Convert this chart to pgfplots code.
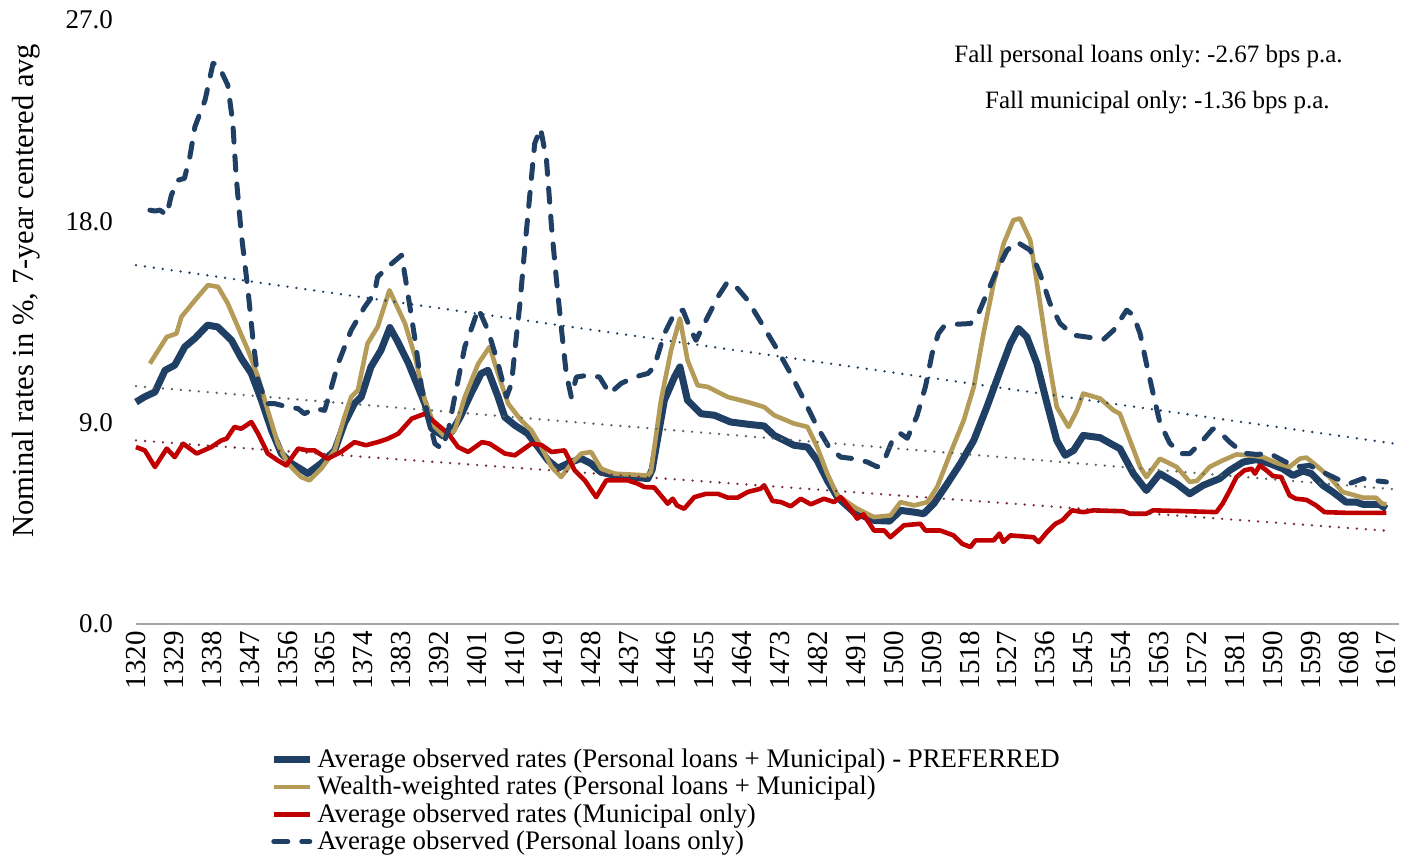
\documentclass[border=0pt]{standalone}
\usepackage{fontspec}
\setmainfont{Liberation Serif}
\usepackage{pgfplots}
\pgfplotsset{compat=1.18}

\definecolor{navy}{HTML}{1F3F64}
\definecolor{gold}{HTML}{B49B57}
\definecolor{mred}{HTML}{C00000}
\definecolor{trendgray}{HTML}{5A665A}
\definecolor{maroon}{HTML}{7B2C3A}
\definecolor{axgray}{HTML}{A6A6A6}

\begin{document}
\frenchspacing
\begin{tikzpicture}
\begin{axis}[
  scale only axis,
  width=631.5pt, height=302pt,
  xmin=1320, xmax=1620,
  ymin=0, ymax=27,
  xtick={1320,1329,...,1617},
  ytick={0,9,18,27},
  /pgf/number format/assume math mode=true,
  xticklabel style={rotate=90, anchor=east, font=\fontsize{14.5}{17}\selectfont,
    /pgf/number format/1000 sep={}},
  yticklabel style={font=\fontsize{13.5}{16}\selectfont, xshift=-8pt,
    /pgf/number format/.cd, fixed, fixed zerofill, precision=1},
  xtick style={draw=none}, ytick style={draw=none},
  axis x line*=bottom, axis y line*=left,
  x axis line style={color=axgray, line width=1pt, -},
  y axis line style={draw=none},
  ylabel={Nominal rates in \%, 7-year centered avg},
  ylabel style={at={(axis description cs:-0.087,0.552)}, anchor=center,
    font=\fontsize{15.3}{18}\selectfont},
  legend style={draw=none, fill=none, at={(0.106,-0.2)}, anchor=north west,
    font=\fontsize{13.4}{14.5}\selectfont, row sep=-1.2pt, inner sep=0pt},
  legend cell align=left,
  legend image code/.code={\draw[#1] (0pt,0pt) -- (18pt,0pt);},
  clip=false,
]
\addplot[navy, line width=3.5pt, line join=round] coordinates {
(1320,9.92)(1322,10.15)(1324.5,10.37)(1326.9,11.34)(1329.2,11.57)(1331.6,12.39)
(1334,12.77)(1337,13.36)(1339.4,13.28)(1342.7,12.68)(1345,11.88)(1347.4,11.2)
(1349.8,10.0)(1352.2,8.66)(1354.5,7.63)(1356.9,7.18)(1360.8,6.73)(1364,7.18)
(1367.2,7.76)(1369.5,8.97)(1371.9,9.86)(1373.5,10.15)(1375.8,11.49)(1378.2,12.24)
(1380.3,13.25)(1382,12.68)(1384.7,11.66)(1388.6,9.86)(1390.2,8.75)(1393,8.4)
(1395,8.6)(1397,9.25)(1399.6,10.31)(1402,11.2)(1403.6,11.34)(1406,10.15)
(1407.6,9.25)(1410,8.88)(1413,8.52)(1415.5,7.91)(1417.9,7.31)(1420.2,6.96)
(1422.6,7.18)(1425.7,7.4)(1428,7.18)(1430.4,6.79)(1433.7,6.64)(1441.6,6.5)
(1442.6,6.9)(1445.5,10.0)(1447.9,11.04)(1449.2,11.49)(1451,10.0)(1454.2,9.4)
(1457.4,9.33)(1461.2,9.03)(1465.3,8.93)(1469.2,8.85)(1471.6,8.43)(1476.3,7.99)
(1479.5,7.91)(1481.8,7.31)(1484.2,6.42)(1486.6,5.67)(1490.5,5.0)(1495.3,4.63)
(1499,4.6)(1501.6,5.08)(1504.8,5.0)(1507.1,4.93)(1509.5,5.38)(1512.7,6.27)
(1515.8,7.17)(1519,8.21)(1522.1,9.7)(1525.3,11.34)(1527.7,12.54)(1529.6,13.21)
(1531.6,12.83)(1534,11.64)(1536.4,9.85)(1538.7,8.21)(1540.7,7.54)(1542.7,7.76)
(1545,8.43)(1549,8.33)(1552.2,7.99)(1553.7,7.84)(1556.9,6.72)(1560,5.97)
(1563.2,6.72)(1567.2,6.27)(1570.3,5.82)(1573.5,6.2)(1577.4,6.5)(1579.8,6.87)
(1583,7.24)(1586.1,7.35)(1589.3,7.17)(1592.4,6.94)(1594.8,6.64)(1597.2,6.84)
(1599.2,6.72)(1601.9,6.2)(1604.3,5.9)(1607.4,5.45)(1609.8,5.45)(1611.4,5.35)
(1615.3,5.35)(1617,5.15)};
\addlegendentry{Average observed rates (Personal loans + Municipal) - PREFERRED}

\addplot[gold, line width=2.3pt, line join=round] coordinates {
(1323.3,11.64)(1327.3,12.83)(1329.6,12.98)(1330.8,13.73)(1334,14.47)(1337.1,15.15)
(1339.5,15.07)(1341.8,14.33)(1344.2,13.28)(1346.6,12.24)(1349,11.04)(1351.3,9.55)
(1353.7,8.06)(1356.1,7.17)(1359.2,6.57)(1361.2,6.42)(1364,6.94)(1367.2,7.76)
(1369.5,9.25)(1371.1,10.15)(1372.7,10.45)(1375,12.54)(1377.4,13.28)(1380.2,14.92)
(1383.9,13.43)(1386.3,11.94)(1388.6,10.0)(1391,8.81)(1393.4,8.36)(1395.7,8.66)
(1398.1,10.15)(1401.3,11.64)(1404,12.39)(1406,11.19)(1408.4,9.85)(1411.5,9.1)
(1413.9,8.66)(1416.3,7.91)(1418.7,7.02)(1421,6.57)(1423.4,7.17)(1425.8,7.62)
(1428.1,7.69)(1430.5,6.94)(1433.7,6.72)(1441.6,6.64)(1442.3,6.8)(1444.7,10.0)
(1447.1,12.24)(1449.2,13.66)(1451,11.79)(1453.4,10.67)(1455.8,10.6)(1460.5,10.15)
(1465.3,9.92)(1469.2,9.7)(1471.6,9.33)(1476.3,8.96)(1479.5,8.81)(1481.8,7.91)
(1484.2,6.72)(1486.6,5.75)(1491.3,5.15)(1495.3,4.78)(1499.2,4.85)(1501.6,5.45)
(1504.8,5.3)(1508,5.45)(1510.3,6.12)(1513.4,7.62)(1516.6,9.1)(1519,10.6)
(1521.3,12.98)(1523.7,15.22)(1526.1,17.01)(1528.4,18.05)(1530,18.13)(1532.4,17.16)
(1534.4,14.77)(1536.4,12.24)(1538.7,9.7)(1541.5,8.81)(1543.5,9.55)(1545,10.3)
(1549,10.08)(1552.2,9.55)(1553.7,9.4)(1556.1,8.21)(1558.5,7.02)(1560,6.57)
(1563.2,7.39)(1567.2,7.02)(1570.3,6.35)(1572,6.4)(1575,7.02)(1578.1,7.31)
(1581.4,7.58)(1584.5,7.54)(1587.7,7.46)(1590.9,7.2)(1594,7.02)(1596.4,7.39)
(1598,7.44)(1600.3,7.09)(1603.5,6.57)(1606.6,5.9)(1608.2,5.82)(1611.4,5.65)
(1614.5,5.65)(1616,5.38)(1617,5.35)};
\addlegendentry{Wealth-weighted rates (Personal loans + Municipal)}

\addplot[mred, line width=2.3pt, line join=round] coordinates {
(1320,7.91)(1322.1,7.76)(1324.5,7.02)(1327.3,7.84)(1329.2,7.46)(1331.2,8.06)
(1334.4,7.62)(1337.9,7.91)(1340.3,8.21)(1341.5,8.28)(1343.4,8.81)(1345,8.73)
(1347.4,9.03)(1349,8.51)(1351.3,7.62)(1353.7,7.31)(1355.7,7.09)(1358.5,7.84)
(1360.8,7.76)(1362.4,7.76)(1365.5,7.39)(1368.7,7.69)(1371.9,8.13)(1374.6,7.99)
(1377.4,8.13)(1379.8,8.28)(1382.3,8.51)(1385.5,9.18)(1388.6,9.4)(1391.8,8.88)
(1394.2,8.51)(1396.5,7.91)(1398.9,7.69)(1402.2,8.13)(1404,8.06)(1407.6,7.62)
(1410,7.54)(1413.9,8.06)(1416.3,8.0)(1418.7,7.69)(1421.8,7.76)(1424.2,6.87)
(1426.6,6.42)(1429.3,5.67)(1431.7,6.42)(1436.8,6.42)(1439.2,6.27)(1440.8,6.12)
(1443.1,6.1)(1446.3,5.38)(1447.5,5.6)(1448.5,5.3)(1450.2,5.15)(1452.6,5.67)
(1455.4,5.82)(1458.2,5.82)(1460.5,5.65)(1462.9,5.65)(1465.3,5.9)(1468.4,6.05)
(1469.2,6.2)(1471.2,5.5)(1473.2,5.45)(1475.5,5.26)(1477.9,5.6)(1480.3,5.35)
(1483.4,5.6)(1485.8,5.45)(1487.4,5.67)(1489.7,5.15)(1491.3,4.71)(1492.8,4.9)
(1495.3,4.18)(1497.7,4.18)(1499.2,3.88)(1502.4,4.41)(1506.3,4.48)(1507.5,4.18)
(1511,4.18)(1514.2,3.96)(1516.2,3.59)(1518.2,3.44)(1519.4,3.74)(1523.7,3.74)
(1525.1,4.04)(1526,3.67)(1527.7,3.96)(1533.2,3.88)(1534.4,3.66)(1536.4,4.11)
(1538.4,4.48)(1540,4.63)(1542.3,5.08)(1545,5.0)(1547.4,5.08)(1554.5,5.04)
(1556.1,4.93)(1560,4.93)(1561.6,5.08)(1567.9,5.05)(1576.6,5.0)(1578.1,5.38)
(1579.8,5.97)(1581.4,6.57)(1583.3,6.87)(1585,6.94)(1585.8,6.72)(1586.9,7.09)
(1588.5,6.87)(1590.1,6.61)(1592,6.57)(1594,5.75)(1595.5,5.6)(1598,5.55)
(1600.3,5.3)(1602.3,5.0)(1607.4,4.97)(1617,4.97)};
\addlegendentry{Average observed rates (Municipal only)}

\addplot[navy, line width=2.5pt, line cap=round, line join=round,
  dash pattern=on 7pt off 7pt] coordinates {
(1323.3,18.5)(1324.5,18.46)(1325.7,18.5)(1327.3,18.28)(1328.4,19.17)(1330,19.84)
(1331.5,19.92)(1332.8,20.89)(1334,22.23)(1336.4,23.42)(1338.3,25.06)(1339.5,25.0)
(1341.8,24.09)(1343,22.38)(1343.8,19.99)(1345,17.46)(1346.6,14.92)(1347.8,12.68)
(1349,10.9)(1351,9.85)(1353,9.85)(1356.1,9.7)(1358.5,9.63)(1360,9.4)
(1362.4,9.63)(1364.8,9.55)(1366,10.3)(1368,11.64)(1371.1,13.13)(1374.3,14.17)
(1376.6,14.77)(1377.4,15.52)(1379.8,15.96)(1383.1,16.49)(1384.7,14.62)(1386.3,12.68)
(1387.8,10.6)(1389.4,9.25)(1391,8.06)(1392.6,7.84)(1394.2,8.66)(1395.7,10.15)
(1398.1,12.39)(1400.1,13.43)(1401.3,14.1)(1403.6,13.13)(1406,11.64)(1408,10.15)
(1409.2,10.75)(1410,12.24)(1411.2,14.33)(1412.3,16.71)(1413.5,19.1)(1414.7,21.48)
(1416.1,22.16)(1417.5,20.74)(1418.7,17.75)(1419.8,15.52)(1421,13.28)(1422.2,11.19)
(1423.4,10.15)(1424.6,11.04)(1427.3,11.12)(1430.1,11.04)(1432.5,10.3)(1435.2,10.75)
(1438.4,11.04)(1441.6,11.2)(1443.1,11.5)(1445.5,12.98)(1447.9,13.88)(1449.9,14.03)
(1451.5,13.28)(1453,12.68)(1455.8,13.73)(1458.2,14.62)(1460.5,15.29)(1462.9,15.0)
(1465.3,14.47)(1468.4,13.5)(1472.4,12.24)(1475.5,11.19)(1478.7,10.0)(1481.8,8.81)
(1484.6,7.91)(1487.4,7.46)(1490.5,7.39)(1493.7,7.24)(1496.1,7.02)(1497.7,7.31)
(1500,8.36)(1501.6,8.51)(1503.2,8.3)(1505.5,9.3)(1507.5,10.6)(1509.1,12.09)
(1510.6,12.98)(1511.8,13.28)(1515,13.4)(1518.2,13.43)(1520.1,13.88)(1522.1,14.77)
(1524.5,15.82)(1526.9,16.71)(1529.2,17.08)(1532.4,16.71)(1534.7,15.67)(1537.1,14.33)
(1539.5,13.43)(1542.7,12.91)(1545.8,12.83)(1549.8,12.72)(1552.2,13.13)(1555.3,14.03)
(1556.9,13.8)(1558.5,12.98)(1560,11.64)(1561.6,10.3)(1563.2,9.0)(1565.5,8.1)
(1567.9,7.62)(1570.3,7.62)(1572.7,8.06)(1575.8,8.73)(1577.4,8.58)(1579.8,8.13)
(1583,7.64)(1586.1,7.58)(1589.3,7.62)(1592.4,7.31)(1595.5,7.02)(1598.7,7.09)
(1601.9,6.79)(1605.1,6.5)(1608.2,6.27)(1611.4,6.5)(1613.7,6.42)(1617,6.35)};
\addlegendentry{Average observed (Personal loans only)}

% linear trends
\addplot[navy, line width=1.3pt, line cap=round, dash pattern=on 0pt off 4.5pt, forget plot]
  coordinates {(1320,16.04)(1619,8.06)};
\addplot[trendgray, line width=1.3pt, line cap=round, dash pattern=on 0pt off 4.5pt, forget plot]
  coordinates {(1320,10.63)(1619,6.02)};
\addplot[maroon, line width=1.3pt, line cap=round, dash pattern=on 0pt off 4.5pt, forget plot]
  coordinates {(1320,8.21)(1617,4.17)};

\node[font=\fontsize{12.5}{15}\selectfont] at (axis cs:1560.5,25.35)
  {Fall personal loans only: -2.67 bps p.a.};
\node[font=\fontsize{12.5}{15}\selectfont] at (axis cs:1562.6,23.33)
  {Fall municipal only: -1.36 bps p.a.};

\coordinate (bl) at (rel axis cs:0,0);
\coordinate (tr) at (rel axis cs:1,1);
\end{axis}
\pgfresetboundingbox
\path ([shift={(-68pt,-118pt)}]bl) rectangle ([shift={(3pt,10pt)}]tr);
\end{tikzpicture}
\end{document}
